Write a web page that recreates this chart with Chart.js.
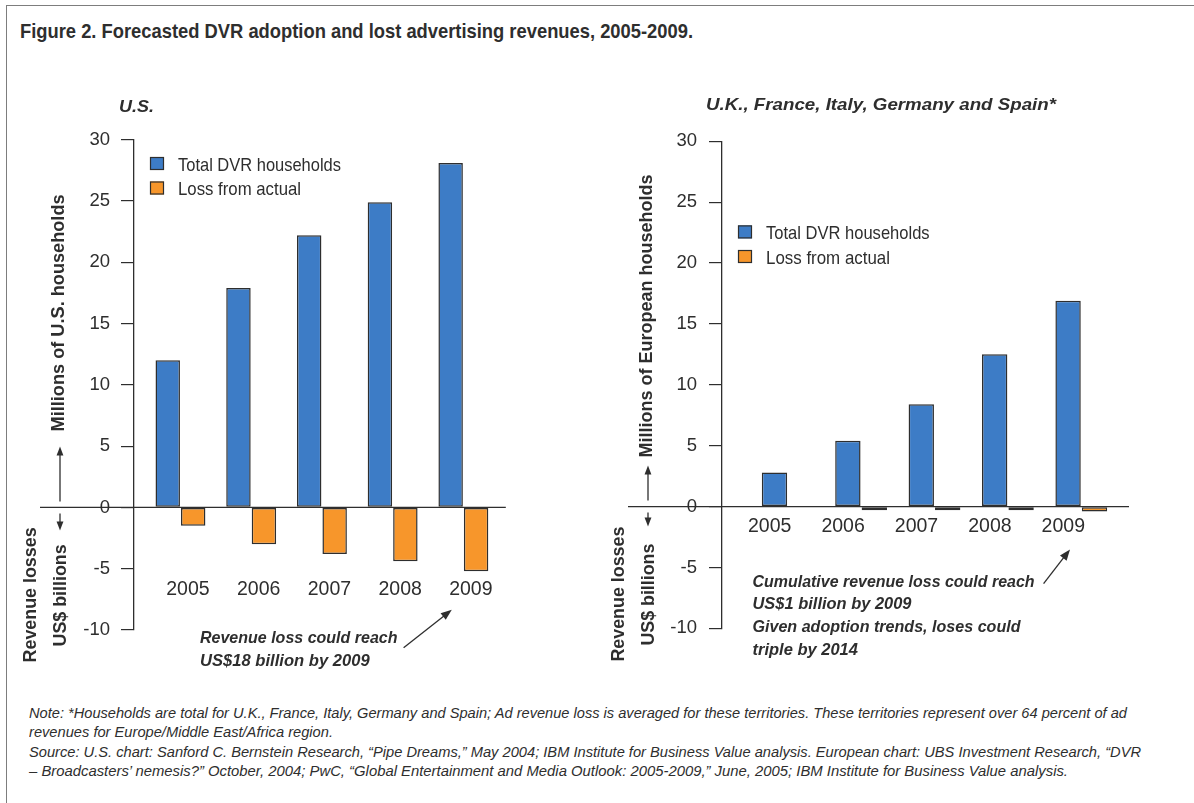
<!DOCTYPE html>
<html>
<head>
<meta charset="utf-8">
<title>Forecasted DVR adoption and lost advertising revenues</title>
<script src="https://cdn.jsdelivr.net/npm/chart.js@4.4.1/dist/chart.umd.min.js"></script>
<style>
  html, body { margin: 0; padding: 0; background: #fff; }
  body { width: 1194px; height: 803px; position: relative; overflow: hidden;
         font-family: "Liberation Sans Narrow", "Liberation Sans", Arial, sans-serif; color: #2e2e2e; }
  #frame { position: absolute; left: 6px; top: 5px; right: -10px; bottom: -10px;
           border-top: 1.5px solid #7d7d7d; border-left: 1.5px solid #7d7d7d; }
  .fit { position: absolute; white-space: nowrap; line-height: 1; transform-origin: 0 50%; }
  #title { left: 20px; top: 20px; font-weight: bold; font-size: 21px; }
  .note { left: 29px; font-style: italic; font-size: 15px; }
  canvas { position: absolute; }
</style>
</head>
<body>
<div id="frame"></div>
<div id="title" class="fit" data-w="673">Figure 2. Forecasted DVR adoption and lost advertising revenues, 2005-2009.</div>

<canvas id="usChart" width="560" height="600" style="left:0;top:80px;width:560px;height:600px"></canvas>
<canvas id="euChart" width="600" height="600" style="left:580px;top:80px;width:600px;height:600px"></canvas>

<div class="fit note" style="top:705px" data-w="1098">Note: *Households are total for U.K., France, Italy, Germany and Spain; Ad revenue loss is averaged for these territories. These territories represent over 64 percent of ad</div>
<div class="fit note" style="top:724px" data-w="304">revenues for Europe/Middle East/Africa region.</div>
<div class="fit note" style="top:744px" data-w="1112">Source: U.S. chart: Sanford C. Bernstein Research, “Pipe Dreams,” May 2004; IBM Institute for Business Value analysis. European chart: UBS Investment Research, “DVR</div>
<div class="fit note" style="top:763px" data-w="1039">– Broadcasters’ nemesis?” October, 2004; PwC, “Global Entertainment and Media Outlook: 2005-2009,” June, 2005; IBM Institute for Business Value analysis.</div>

<script>
// ---- data ----
const years = [2005, 2006, 2007, 2008, 2009];
const seriesLabels = ['Total DVR households', 'Loss from actual'];
const usHouseholds = [12.0, 17.9, 22.2, 24.9, 28.1];   // millions of U.S. households
const usLoss = [-1.5, -3.0, -3.8, -4.4, -5.2];          // US$ billions
const euHouseholds = [2.8, 5.4, 8.4, 12.5, 16.9];      // millions of European households
const euLoss = [null, -0.3, -0.3, -0.3, -0.4];         // US$ billions
const yTicks = [-10, -5, 0, 5, 10, 15, 20, 25, 30];

const BLUE = '#3d7cc6';
const ORANGE = '#f7962b';
const INK = '#2e2e2e';
const NARROW = '"Liberation Sans Narrow", "Liberation Sans", Arial, sans-serif';

// stretch/squeeze html lines to the widths in the original
document.querySelectorAll('.fit').forEach(function(el) {
    const w = el.getBoundingClientRect().width;
    el.style.transform = 'scaleX(' + (parseFloat(el.dataset.w) / w) + ')';
});

function fitText(ctx, text, x, y, width, font, rotate) {
    ctx.save();
    ctx.font = font;
    const w = ctx.measureText(text).width;
    ctx.translate(x, y);
    if (rotate) ctx.rotate(-Math.PI / 2);
    ctx.scale(width / w, 1);
    ctx.textAlign = 'left';
    ctx.textBaseline = 'middle';
    ctx.fillStyle = INK;
    ctx.fillText(text, 0, 0);
    ctx.restore();
}

function arrow(ctx, x1, y1, x2, y2, head) {
    const a = Math.atan2(y2 - y1, x2 - x1);
    ctx.save();
    ctx.strokeStyle = INK;
    ctx.fillStyle = INK;
    ctx.lineWidth = 1.3;
    ctx.beginPath();
    ctx.moveTo(x1, y1);
    ctx.lineTo(x2 - Math.cos(a) * head * 0.8, y2 - Math.sin(a) * head * 0.8);
    ctx.stroke();
    ctx.beginPath();
    ctx.moveTo(x2, y2);
    ctx.lineTo(x2 - head * Math.cos(a) + head * 0.38 * Math.sin(a), y2 - head * Math.sin(a) - head * 0.38 * Math.cos(a));
    ctx.lineTo(x2 - head * Math.cos(a) - head * 0.38 * Math.sin(a), y2 - head * Math.sin(a) + head * 0.38 * Math.cos(a));
    ctx.closePath();
    ctx.fill();
    ctx.restore();
}

// titles, legend, split axis captions and call-outs
const decor = {
    id: 'decor',
    afterDraw(chart, args, o) {
        const ctx = chart.ctx;
        const area = chart.chartArea;
        const L = area.left, T = area.top;
        const z = chart.scales.y.getPixelForValue(0);

        // zero line, running out past the axis
        ctx.save();
        ctx.strokeStyle = INK;
        ctx.lineWidth = 1.3;
        ctx.beginPath();
        ctx.moveTo(L - 94, z);
        ctx.lineTo(area.right, z);
        ctx.stroke();
        ctx.restore();

        // panel title
        fitText(ctx, o.title, L + o.titleDx, T + o.titleDy, o.titleW, 'italic bold 17px ' + NARROW);

        // legend
        chart.data.datasets.forEach(function(ds, i) {
            const by = T + o.legendDy + i * o.legendGap;
            ctx.save();
            ctx.fillStyle = ds.backgroundColor;
            ctx.strokeStyle = INK;
            ctx.lineWidth = 1.2;
            ctx.fillRect(L + 16, by, 14, 13);
            ctx.strokeRect(L + 16.5, by + 0.5, 13, 12);
            ctx.restore();
            fitText(ctx, ds.label, L + 44, by + 8.5, o.legendW[i], '19px ' + NARROW);
        });

        // axis captions with arrows
        fitText(ctx, o.upTitle, L - 75, z - o.upTitleGap, o.upTitleW, 'bold 19px ' + NARROW, true);
        arrow(ctx, L - 74, z - 6, L - 74, z - o.upArrow, 9);
        arrow(ctx, L - 74, z + 6, L - 74, z + o.downArrow, 9);
        fitText(ctx, 'Revenue losses', L - 103, z + 155, 135, 'bold 19px ' + NARROW, true);
        fitText(ctx, 'US$ billions', L - 73, z + 139, 102, 'bold 19px ' + NARROW, true);

        // call-out
        o.note.forEach(function(line, i) {
            fitText(ctx, line, L + o.noteDx, z + o.noteDy + i * o.noteGap, o.noteW[i], 'italic bold 17px ' + NARROW);
        });
        arrow(ctx, L + o.arrow[0], z + o.arrow[1], L + o.arrow[2], z + o.arrow[3], 11);
    }
};

function buildChart(id, households, loss, cfg) {
    return new Chart(document.getElementById(id), {
        type: 'bar',
        data: {
            datasets: [
                { label: seriesLabels[0], data: years.map((yr, i) => ({ x: yr, y: households[i] })),
                  backgroundColor: BLUE },
                { label: seriesLabels[1], data: years.map((yr, i) => ({ x: yr, y: loss[i] })),
                  backgroundColor: ORANGE }
            ]
        },
        options: {
            responsive: false,
            animation: false,
            events: [],
            layout: { padding: cfg.padding },
            categoryPercentage: 0.72,
            barPercentage: 0.96,
            datasets: { bar: { borderColor: INK, borderWidth: 1.5, borderSkipped: false } },
            scales: {
                x: {
                    type: 'linear',
                    offset: false,
                    min: cfg.xMin,
                    max: cfg.xMax,
                    position: { y: 0 },
                    afterFit: s => { s.height = 0; },
                    afterBuildTicks: s => { s.ticks = years.map(v => ({ value: v })); },
                    grid: { display: false, drawTicks: false, offset: false },
                    border: { display: false },
                    ticks: {
                        padding: cfg.labelPad,
                        labelOffset: cfg.labelOffset,
                        maxRotation: 0,
                        color: INK,
                        font: { family: '"Liberation Sans", Arial, sans-serif', size: 19.5 },
                        callback: v => String(v)
                    }
                },
                y: {
                    min: -10,
                    max: 30,
                    afterFit: s => { s.width = 60; },
                    afterBuildTicks: s => { s.ticks = yTicks.map(v => ({ value: v })); },
                    grid: { drawOnChartArea: false, drawTicks: true, tickLength: 13, tickColor: INK, lineWidth: 1.2 },
                    border: { display: true, color: INK, width: 1.3 },
                    ticks: {
                        padding: cfg.tickPad,
                        color: INK,
                        font: { family: '"Liberation Sans", Arial, sans-serif', size: 18.5 }
                    }
                }
            },
            plugins: {
                legend: { display: false },
                tooltip: { enabled: false },
                decor: cfg.decor
            }
        },
        plugins: [decor]
    });
}

buildChart('usChart', usHouseholds, usLoss, {
    padding: { left: 74, top: 59.7, right: 38, bottom: 50 },
    xMin: 2004.343, xMax: 2009.6,
    labelPad: 70.6, labelOffset: 7.5, tickPad: 11,
    decor: {
        title: 'U.S.', titleDx: -15, titleDy: -32, titleW: 35,
        legendDy: 17.3, legendGap: 24.5, legendW: [163, 123],
        upTitle: 'Millions of U.S. households', upTitleGap: 76, upTitleW: 237,
        upArrow: 61, downArrow: 23,
        note: ['Revenue loss could reach', 'US$18 billion by 2009'],
        noteDx: 66, noteDy: 131, noteGap: 23, noteW: [197.5, 169.6],
        arrow: [269.6, 140.3, 317.8, 102.3]
    }
});

buildChart('euChart', euHouseholds, euLoss, {
    padding: { left: 82, top: 61.2, right: 51, bottom: 51.6 },
    xMin: 2004.105, xMax: 2009.65,
    labelPad: 8.1, labelOffset: -18, tickPad: 12,
    decor: {
        title: 'U.K., France, Italy, Germany and Spain*', titleDx: -16, titleDy: -36, titleW: 350,
        legendDy: 84.2, legendGap: 24.6, legendW: [163.6, 124],
        upTitle: 'Millions of European households', upTitleGap: 49, upTitleW: 283,
        upArrow: 41, downArrow: 20,
        note: ['Cumulative revenue loss could reach', 'US$1 billion by 2009',
               'Given adoption trends, loses could', 'triple by 2014'],
        noteDx: 30.5, noteDy: 75.3, noteGap: 22.8, noteW: [282, 159, 268, 105.4],
        arrow: [321.6, 77, 348, 42.8]
    }
});
</script>
</body>
</html>
